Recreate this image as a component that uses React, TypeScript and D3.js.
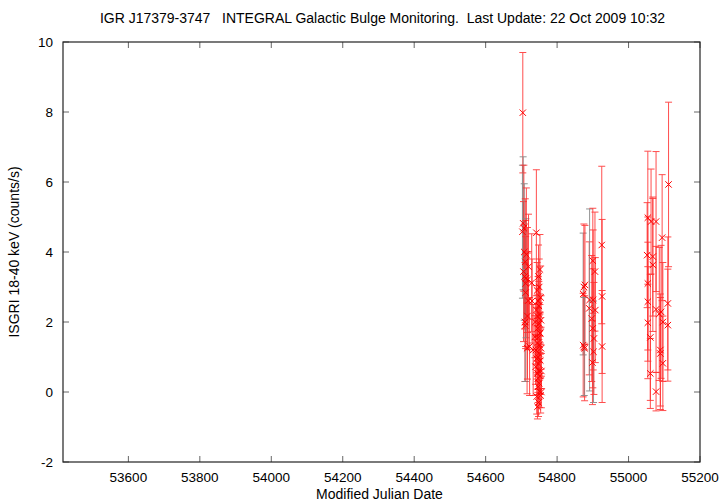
import React from "react";
import * as d3 from "d3";

const title = "IGR J17379-3747   INTEGRAL Galactic Bulge Monitoring.  Last Update: 22 Oct 2009 10:32";
const xLabel = "Modified Julian Date";
const yLabel = "ISGRI 18-40 keV (counts/s)";
const xTicks = [53600, 53800, 54000, 54200, 54400, 54600, 54800, 55000, 55200];
const yTicks = [-2, 0, 2, 4, 6, 8, 10];

// MJD of each measurement
const mjd = [
  54703, 54704, 54705, 54706, 54707, 54708, 54709, 54710, 54711, 54711, 54712, 54712, 54713, 54714, 54716, 54717, 54717, 54719, 54720, 54723, 54729, 54730, 54733,
  54738, 54739, 54740, 54741, 54742, 54742, 54743, 54743, 54744, 54744, 54745, 54745, 54745, 54746, 54746, 54746, 54747, 54747, 54747, 54748, 54748, 54748,
  54749, 54749, 54749, 54750, 54750, 54750, 54751, 54751, 54751, 54752, 54752, 54752, 54753, 54753, 54754, 54754, 54755, 54755, 54756, 54756,
  54873, 54875, 54873, 54877, 54878, 54876, 54890, 54891, 54897, 54899, 54900, 54900, 54901, 54902, 54903, 54906, 54907, 54925, 54926, 54926,
  55052, 55054, 55054, 55054, 55054, 55061, 55061, 55063, 55068, 55068, 55077, 55077, 55077, 55086, 55089, 55089, 55091, 55094, 55096, 55096, 55110, 55110, 55112,
];
// count rate (counts/s)
const rate = [
  4.58, 7.98, 4.82, 3.44, 4.68, 4.0, 3.3, 2.0, 3.72, 1.9, 3.1, 2.84, 3.25, 3.93, 1.25, 2.17, 3.2, 2.61, 3.58, 1.3, 3.12, 2.6, 1.2,
  1.58, 2.0, 0.72, 1.2, 4.55, 2.34, -0.13, 0.95, 1.39, 2.9, 2.17, 0.53, -0.42, 1.0, 0.39, 1.82, 2.6, 0.15, 1.55, 3.3, 0.8, -0.3,
  2.46, 1.1, 0.6, 1.95, 3.0, 0.25, 0.01, 1.35, 2.2, 0.45, 1.68, 3.5, 1.68, 0.9, 2.7, -0.1, 1.25, 2.05, 0.6, 0.0,
  2.8, 3.0, 1.34, 1.25, 3.06, 1.3, 2.39, 2.63, 2.1, 0.84, 3.75, 1.82, 2.63, 1.15, 1.53, 3.44, 2.34, 4.2, 2.73, 1.3,
  3.91, 4.98, 3.1, 2.58, 1.98, 1.56, 0.53, 4.87, 3.87, 3.63, 4.87, 2.36, 0.01, 2.23, 1.2, 1.1, 2.29, 4.41, 2.0, 0.82, 2.53, 1.91, 5.93,
];
// 1-sigma error
const err = [
  1.9, 1.72, 1.9, 2.0, 1.8, 1.95, 1.5, 1.7, 1.8, 1.6, 1.8, 1.6, 1.7, 1.9, 1.3, 1.8, 1.5, 1.4, 1.5, 1.4, 1.4, 1.2, 1.3,
  0.6, 0.5, 0.5, 0.4, 1.8, 0.7, 0.5, 0.4, 0.5, 0.8, 0.6, 0.45, 0.35, 0.5, 0.4, 0.6, 0.7, 0.45, 0.5, 0.9, 0.5, 0.4,
  0.7, 0.4, 0.5, 0.6, 0.8, 0.45, 0.45, 0.5, 0.6, 0.5, 0.55, 1.0, 0.6, 0.5, 0.9, 0.5, 0.6, 0.7, 0.5, 0.45,
  1.74, 1.8, 1.48, 1.5, 1.7, 1.4, 1.9, 2.6, 1.8, 1.2, 1.5, 1.7, 2.0, 1.45, 1.6, 1.7, 1.5, 2.25, 2.2, 1.6,
  1.5, 1.9, 1.9, 1.7, 1.6, 1.8, 1.0, 1.5, 1.7, 1.9, 2.0, 1.8, 0.55, 1.9, 1.6, 1.6, 1.9, 1.8, 1.7, 1.35, 1.9, 1.6, 2.35,
];
// 1 = grey error bar, 0 = red
const greyBar = [
  1, 0, 1, 0, 0, 1, 0, 0, 0, 1, 0, 0, 1, 0, 0, 0, 0, 0, 0, 0, 0, 0, 0,
  0, 0, 0, 0, 0, 0, 0, 0, 0, 0, 0, 0, 0, 0, 0, 0, 0, 0, 0, 0, 0, 0,
  0, 0, 0, 0, 0, 0, 0, 0, 0, 0, 0, 0, 0, 0, 0, 0, 0, 0, 0, 0,
  1, 0, 0, 0, 0, 1, 0, 1, 0, 0, 0, 0, 0, 1, 0, 0, 0, 0, 0, 0,
  0, 0, 0, 0, 0, 0, 0, 0, 0, 0, 0, 0, 0, 0, 0, 0, 0, 0, 0, 0, 0, 0, 0,
];

const W = 720, H = 504;
const L = 63, R = 700, T = 42, B = 462;

export default function App() {
  const x = d3.scaleLinear().domain([53417, 55200]).range([L, R]);
  const y = d3.scaleLinear().domain([-2, 10]).range([B, T]);
  const font = "'Liberation Sans', Arial, sans-serif";
  const tl = 6;
  const cap = 3.5;
  const ms = 3.2;
  const pts = mjd.map((m, i) => ({ m, v: rate[i], e: err[i], g: greyBar[i] }));
  return (
    <svg width={W} height={H} style={{ position: "absolute", left: 0, top: 0, background: "#fff" }} fontFamily={font}>
      <rect x={0} y={0} width={W} height={H} fill="#fff" />
      <text x={(L + R) / 2 + 1} y={23} fontSize={14} textAnchor="middle" style={{ whiteSpace: "pre" }}>{title}</text>
      {yTicks.map((t) => (
        <g key={"y" + t}>
          <line x1={L} x2={L + tl} y1={y(t)} y2={y(t)} stroke="#666" />
          <line x1={R} x2={R - tl} y1={y(t)} y2={y(t)} stroke="#666" />
          <text x={L - 10} y={y(t) + 4.5} fontSize={13.5} textAnchor="end">{t}</text>
        </g>
      ))}
      {xTicks.map((t) => (
        <g key={"x" + t}>
          <line x1={x(t)} x2={x(t)} y1={B} y2={B - tl} stroke="#666" />
          <line x1={x(t)} x2={x(t)} y1={T} y2={T + tl} stroke="#666" />
          <text x={x(t)} y={B + 20} fontSize={13.5} textAnchor="middle">{t}</text>
        </g>
      ))}
      <text x={(L + R) / 2 - 2} y={499} fontSize={14} textAnchor="middle">{xLabel}</text>
      <text transform={`translate(19,${(T + B) / 2}) rotate(-90)`} fontSize={14} textAnchor="middle">{yLabel}</text>
      <g>
        {pts.map((p, i) => {
          const cx = x(p.m);
          const col = p.g ? "#888" : "#ff3030";
          return (
            <g key={"e" + i} stroke={col} strokeWidth={1} opacity={p.g ? 0.9 : 0.85}>
              <line x1={cx} x2={cx} y1={y(p.v - p.e)} y2={y(p.v + p.e)} />
              <line x1={cx - cap} x2={cx + cap} y1={y(p.v - p.e)} y2={y(p.v - p.e)} />
              <line x1={cx - cap} x2={cx + cap} y1={y(p.v + p.e)} y2={y(p.v + p.e)} />
            </g>
          );
        })}
        {pts.map((p, i) => {
          const cx = x(p.m), cy = y(p.v);
          return (
            <path key={"p" + i} d={`M${cx - ms},${cy - ms}L${cx + ms},${cy + ms}M${cx - ms},${cy + ms}L${cx + ms},${cy - ms}`} stroke="#ff0000" strokeWidth={1} fill="none" />
          );
        })}
      </g>
      <rect x={L} y={T} width={R - L} height={B - T} fill="none" stroke="#222" strokeWidth={1.2} />
    </svg>
  );
}
